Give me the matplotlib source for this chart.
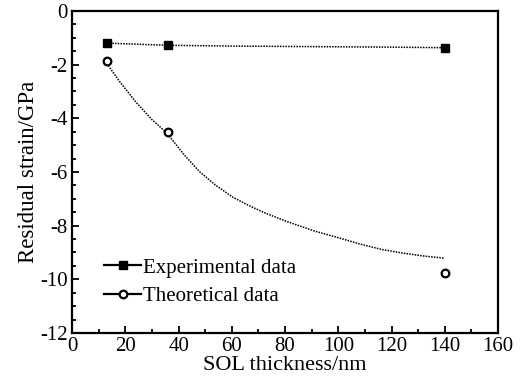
import matplotlib
matplotlib.use('Agg')
import matplotlib.pyplot as plt
from matplotlib.lines import Line2D
from matplotlib.ticker import MultipleLocator

plt.rcParams['font.family'] = ['Liberation Serif', 'DejaVu Serif']
plt.rcParams['axes.unicode_minus'] = False

# Measured points
thickness = [13, 36, 140]
experimental = [-1.2, -1.28, -1.37]
theoretical = [-1.88, -4.52, -9.78]

# Dotted fit curves
exp_fit_x = [13, 36, 60, 90, 120, 140]
exp_fit_y = [-1.2, -1.28, -1.31, -1.33, -1.35, -1.37]
theo_fit_x = [13, 18, 24, 30, 35.6, 42, 48, 54, 60.5, 67, 73, 80, 86, 91, 100, 108, 116, 124, 132, 139.6]
theo_fit_y = [-1.95, -2.65, -3.4, -4.05, -4.55, -5.35, -6.0, -6.5, -6.95, -7.28, -7.55, -7.82, -8.03, -8.2, -8.45, -8.68, -8.88, -9.02, -9.13, -9.21]

fig = plt.figure(figsize=(5.26, 3.83), dpi=100)
ax = fig.add_axes([0.137, 0.1305, 0.81, 0.841])

ax.plot(exp_fit_x, exp_fit_y, color='black', linestyle=(0, (1, 0.8)), linewidth=1.1)
ax.plot(theo_fit_x, theo_fit_y, color='black', linestyle=(0, (1, 0.8)), linewidth=1.1)
ax.plot(thickness, experimental, linestyle='none', marker='s', markersize=6,
        color='black')
ax.plot(thickness, theoretical, linestyle='none', marker='o', markersize=5.5,
        markerfacecolor='white', markeredgecolor='black', markeredgewidth=1.6)

ax.set_xlim(0, 160)
ax.set_ylim(-12, 0)
ax.xaxis.set_major_locator(MultipleLocator(20))
ax.xaxis.set_minor_locator(MultipleLocator(10))
ax.yaxis.set_major_locator(MultipleLocator(2))
ax.yaxis.set_minor_locator(MultipleLocator(0.5))
ax.tick_params(which='both', direction='in', top=False, right=False,
               labelsize=15, width=1.3)
ax.tick_params(which='major', length=5, pad=3)
ax.tick_params(which='minor', length=3)
for s in ax.spines.values():
    s.set_linewidth(1.6)

ax.set_xlabel('SOL thickness/nm', fontsize=16, labelpad=0)
ax.set_ylabel('Residual strain/GPa', fontsize=16.5, labelpad=1)

handles = [
    Line2D([], [], color='black', linewidth=1.6, marker='s', markersize=6),
    Line2D([], [], color='black', linewidth=1.6, marker='o', markersize=5.5,
           markerfacecolor='white', markeredgewidth=1.6),
]
ax.legend(handles, ['Experimental data', 'Theoretical data'], loc='lower left',
          bbox_to_anchor=(0.05, 0.05), frameon=False, fontsize=15,
          handlelength=1.8, handletextpad=0.1, labelspacing=0.45, borderpad=0)

fig.savefig('out.png', dpi=100)
